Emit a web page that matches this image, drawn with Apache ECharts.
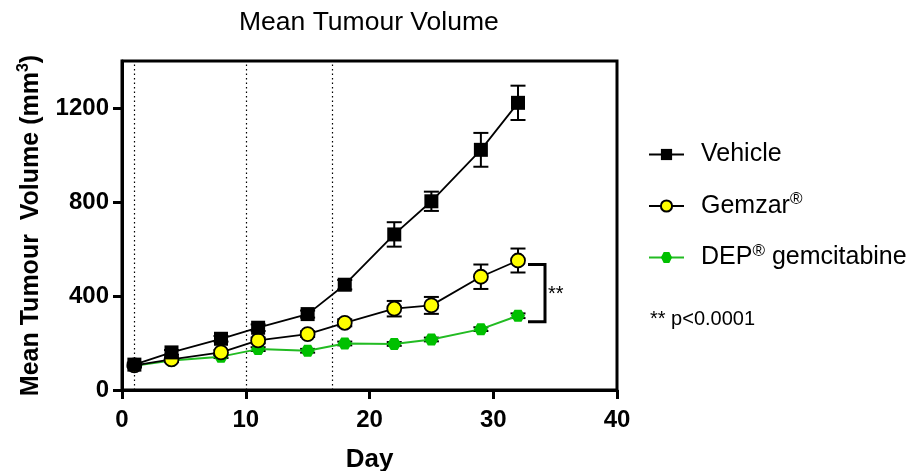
<!DOCTYPE html>
<html>
<head>
<meta charset="utf-8">
<script src="https://cdn.jsdelivr.net/npm/echarts@6/dist/echarts.min.js"></script>
<style>html,body{margin:0;padding:0;background:#fff}#c{width:922px;height:471px}</style>
</head>
<body>
<div id="c"></div>
<script>
// ---- data ----
const days = [1, 4, 8, 11, 15, 18, 22, 25, 29, 32];
const vehicle = [108, 160, 218, 265, 323, 448, 662, 803, 1022, 1222];
const vehicleErr = [8, 10, 12, 14, 15, 20, 52, 41, 72, 73];
const gemzar = [105, 130, 160, 211, 238, 286, 346, 360, 482, 551];
const gemzarErr = [8, 8, 10, 12, 12, 15, 33, 36, 52, 51];
const dep = [103, 126, 142, 174, 167, 198, 196, 215, 259, 316];
const depErr = [5, 6, 6, 8, 8, 8, 8, 8, 8, 10];
const treatmentDays = [1, 10, 17];
const xTicks = [0, 10, 20, 30, 40];
const yTicks = [0, 400, 800, 1200];
const seriesNames = ['Vehicle', 'Gemzar®', 'DEP® gemcitabine'];

const FONT = 'Liberation Sans, Arial, Helvetica, sans-serif';
const hexPath = 'path://M0,5 L2.9,0 L8.7,0 L11.6,5 L8.7,10 L2.9,10 Z';

const pts = (v) => days.map((d, i) => [d, v[i]]);
const errs = (v, e) => days.map((d, i) => [d, v[i] - e[i], v[i] + e[i]]);

function errRender(params, api) {
  const x = api.value(0);
  const lo = api.coord([x, api.value(1)]);
  const hi = api.coord([x, api.value(2)]);
  const hw = 7.5;
  const st = { stroke: '#000', lineWidth: 2 };
  return {
    type: 'group',
    children: [
      { type: 'line', shape: { x1: lo[0], y1: lo[1], x2: hi[0], y2: hi[1] }, style: st },
      { type: 'line', shape: { x1: lo[0] - hw, y1: lo[1], x2: lo[0] + hw, y2: lo[1] }, style: st },
      { type: 'line', shape: { x1: hi[0] - hw, y1: hi[1], x2: hi[0] + hw, y2: hi[1] }, style: st }
    ]
  };
}

function bracketRender(params, api) {
  const x = api.value(0);
  const pT = api.coord([x, api.value(1)]);
  const pB = api.coord([x, api.value(2)]);
  const x1 = pT[0] + 10, x2 = pT[0] + 27;
  const yT = pT[1] + 4, yB = pB[1] + 6;
  return {
    type: 'group',
    children: [
      { type: 'polyline', shape: { points: [[x1, yT], [x2, yT], [x2, yB], [x1, yB]] },
        style: { stroke: '#000', lineWidth: 3, fill: null } },
      { type: 'text', style: { x: x2 + 3, y: (yT + yB) / 2 + 1, text: '**', fontSize: 20,
        fontFamily: FONT, fill: '#000', textVerticalAlign: 'middle', textAlign: 'left' } }
    ]
  };
}

const last = days.length - 1;

const chart = echarts.init(document.getElementById('c'), null, { renderer: 'canvas' });
chart.setOption({
  animation: false,
  backgroundColor: '#fff',
  title: {
    text: 'Mean Tumour Volume',
    left: 234, top: 4,
    textStyle: { fontFamily: FONT, fontSize: 26.5, fontWeight: 'normal', color: '#000' }
  },
  grid: {
    left: 122, right: 305, top: 61, bottom: 81,
    containLabel: false, outerBoundsMode: 'none',
    show: true, borderColor: '#000', borderWidth: 3, backgroundColor: 'transparent'
  },
  legend: {
    data: seriesNames,
    orient: 'vertical',
    left: 643, top: 137,
    itemWidth: 35, itemHeight: 14, itemGap: 24,
    formatter: (name) => name.split('®').map(s => s ? '{t|' + s + '}' : '').join('{s|®}'),
    textStyle: {
      fontFamily: FONT, color: '#000', padding: [0, 0, 0, 12],
      rich: {
        t: { fontFamily: FONT, fontSize: 25, lineHeight: 30, color: '#000' },
        s: { fontFamily: FONT, fontSize: 17, lineHeight: 30, verticalAlign: 'top', color: '#000' }
      }
    }
  },
  graphic: [
    { type: 'text', left: 650, top: 309,
      style: { text: '** p<0.0001', fontFamily: FONT, fontSize: 20, fill: '#000' } }
  ],
  xAxis: {
    type: 'value', min: xTicks[0], max: xTicks[xTicks.length - 1], interval: 10,
    name: 'Day', nameLocation: 'middle', nameGap: 57,
    nameTextStyle: { fontFamily: FONT, fontSize: 26, fontWeight: 'bold', color: '#000' },
    axisLine: { show: true, lineStyle: { color: '#000', width: 3 } },
    axisTick: { show: true, length: 9, lineStyle: { color: '#000', width: 3 } },
    axisLabel: { margin: 18, fontFamily: FONT, fontSize: 24, fontWeight: 'bold', color: '#000' },
    splitLine: { show: false }
  },
  yAxis: {
    type: 'value', min: 0, max: 1400, interval: 400,
    name: '{a|Mean Tumour  Volume (mm}{s|3}{a|)}', nameLocation: 'middle', nameGap: 76,
    nameTextStyle: {
      fontFamily: FONT, fontSize: 25, fontWeight: 'bold', color: '#000',
      rich: {
        a: { fontFamily: FONT, fontSize: 25, fontWeight: 'bold', lineHeight: 30, color: '#000' },
        s: { fontFamily: FONT, fontSize: 16, fontWeight: 'bold', lineHeight: 30, verticalAlign: 'top', color: '#000' }
      }
    },
    axisLine: { show: true, lineStyle: { color: '#000', width: 3 } },
    axisTick: { show: true, length: 9, customValues: yTicks, lineStyle: { color: '#000', width: 3 } },
    axisLabel: { margin: 13, customValues: yTicks, formatter: (v) => String(v),
      fontFamily: FONT, fontSize: 24, fontWeight: 'bold', color: '#000' },
    splitLine: { show: false }
  },
  series: [
    {
      name: 'treatment', type: 'line', data: [], z: 0, silent: true,
      markLine: {
        silent: true, symbol: 'none', label: { show: false },
        lineStyle: { type: [1.5, 3], color: '#000', width: 1.2 },
        data: treatmentDays.map(d => ({ xAxis: d }))
      }
    },
    { name: 'errD', type: 'custom', renderItem: errRender, data: errs(dep, depErr), z: 1, silent: true },
    { name: 'errG', type: 'custom', renderItem: errRender, data: errs(gemzar, gemzarErr), z: 1, silent: true },
    { name: 'errV', type: 'custom', renderItem: errRender, data: errs(vehicle, vehicleErr), z: 1, silent: true },
    {
      name: seriesNames[0], type: 'line', data: pts(vehicle), z: 5,
      symbol: 'rect', symbolSize: 14,
      itemStyle: { color: '#000', borderWidth: 0 },
      lineStyle: { color: '#000', width: 1.8 }
    },
    {
      name: seriesNames[1], type: 'line', data: pts(gemzar), z: 4,
      symbol: 'circle', symbolSize: 14,
      itemStyle: { color: '#ffff00', borderColor: '#000', borderWidth: 1.8 },
      lineStyle: { color: '#000', width: 1.8 }
    },
    {
      name: seriesNames[2], type: 'line', data: pts(dep), z: 3,
      symbol: hexPath, symbolSize: [14, 12], symbolKeepAspect: false,
      itemStyle: { color: '#00c000', borderWidth: 0 },
      lineStyle: { color: '#22bb22', width: 2 }
    },
    {
      name: 'bracket', type: 'custom', renderItem: bracketRender, z: 6, silent: true,
      data: [[days[last], gemzar[last], dep[last]]]
    }
  ]
});
</script>
</body>
</html>
